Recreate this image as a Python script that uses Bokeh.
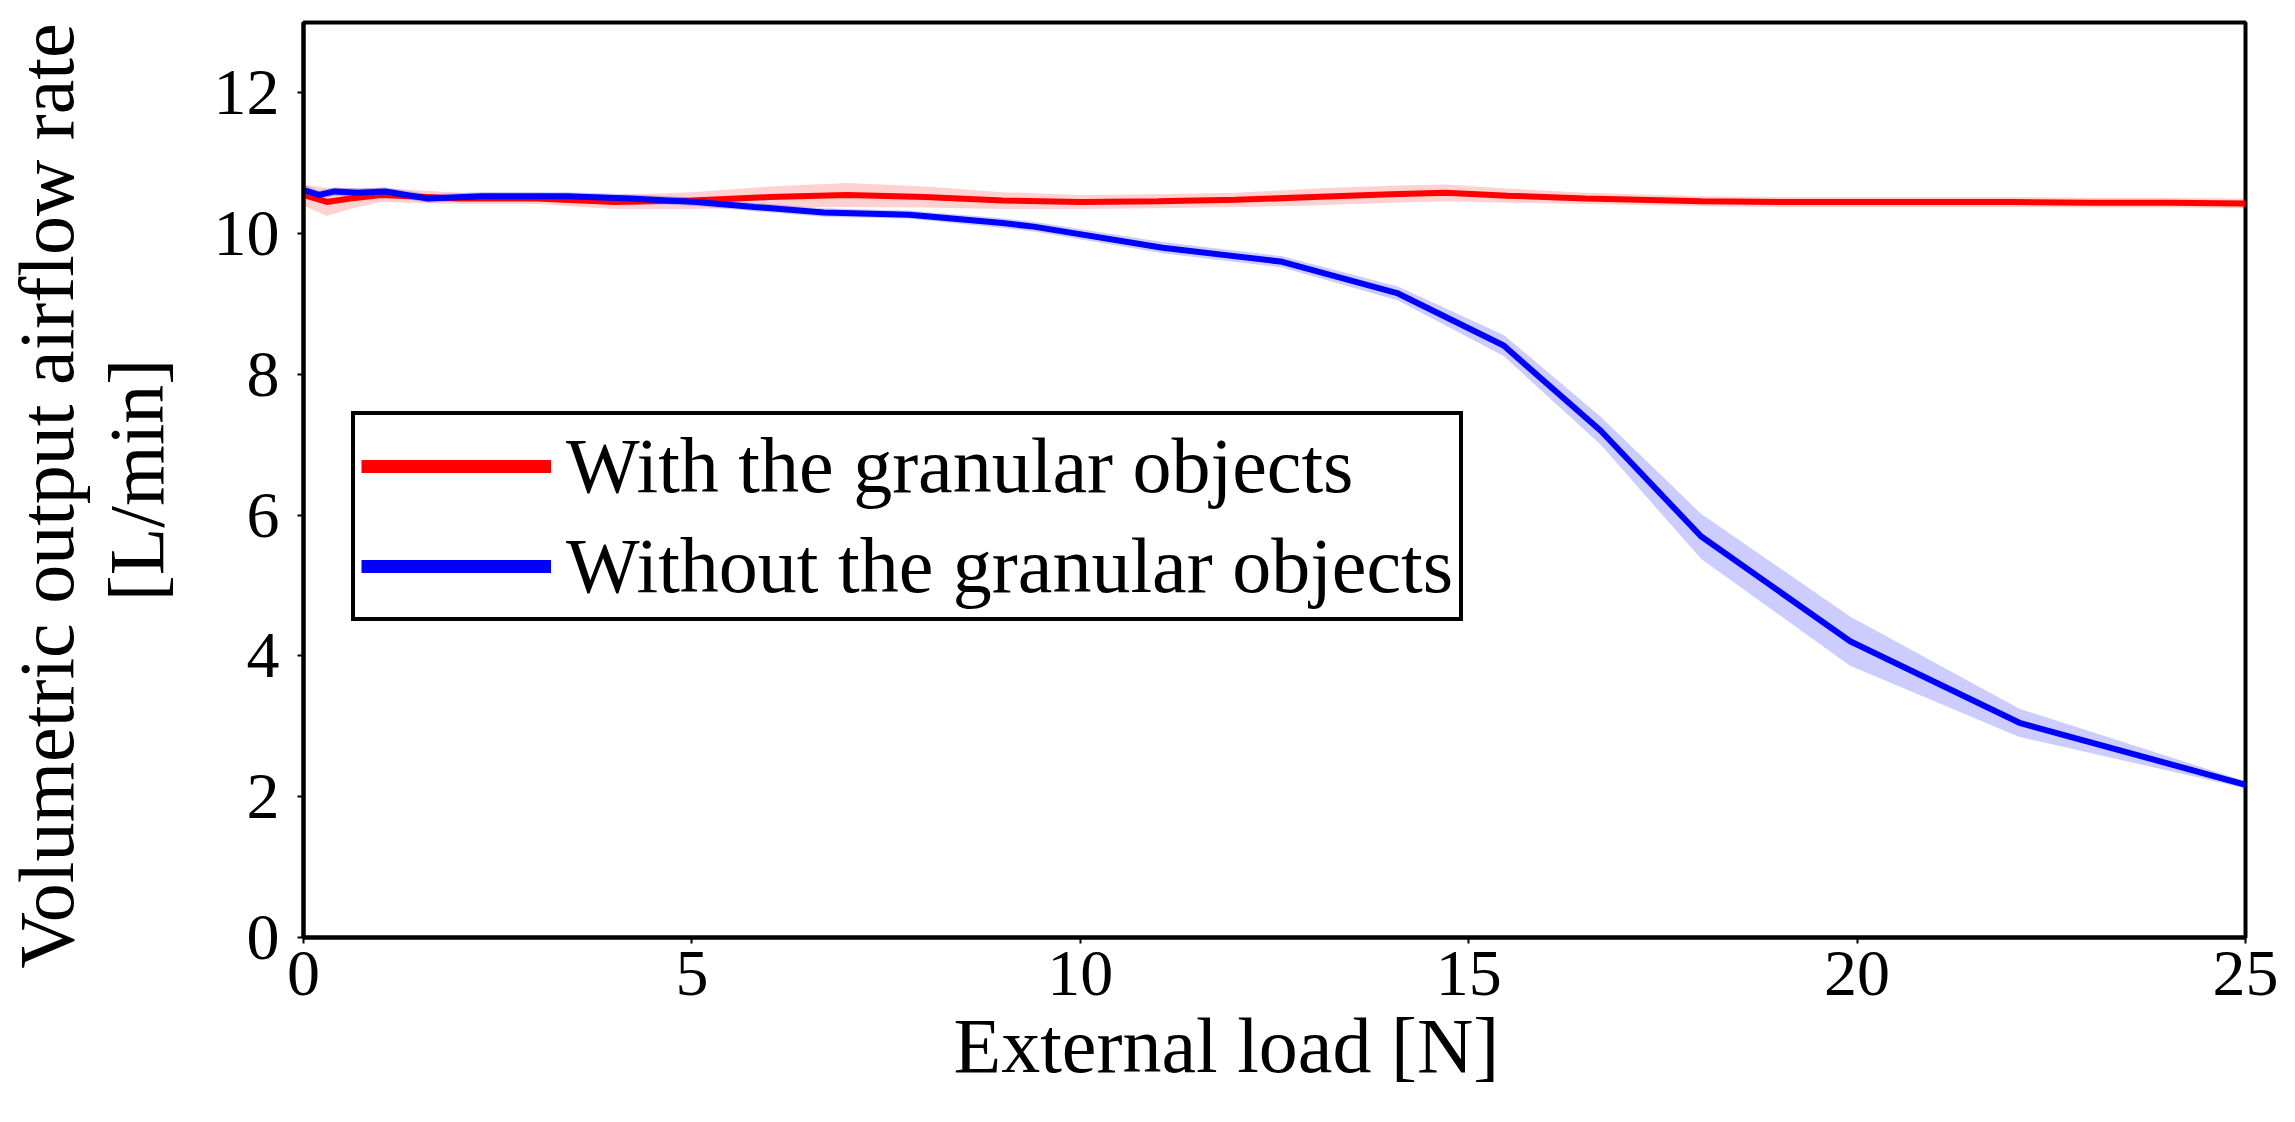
import math
from bokeh.plotting import figure
from bokeh.models import Range1d, Legend, LegendItem, FixedTicker, Title
from bokeh.embed import file_html
from bokeh.resources import INLINE

# ---- data ----
red_x = [0, 0.3, 0.6, 1.0, 2, 3, 4, 5, 6, 7, 8, 9, 10, 11, 12, 13, 14, 14.7, 15.5, 16.5, 18, 19, 20, 21, 22, 23, 24, 25]
red_y = [10.55, 10.45, 10.5, 10.55, 10.5, 10.5, 10.45, 10.47, 10.52, 10.55, 10.52, 10.47, 10.45, 10.46,
         10.48, 10.52, 10.56, 10.58, 10.54, 10.5, 10.46, 10.45, 10.45, 10.45, 10.45, 10.44, 10.44, 10.43]
red_sd = [0.15, 0.2, 0.15, 0.1, 0.08, 0.08, 0.1, 0.12, 0.15, 0.17, 0.15, 0.12, 0.1, 0.1,
          0.1, 0.12, 0.12, 0.12, 0.1, 0.08, 0.07, 0.07, 0.07, 0.07, 0.07, 0.07, 0.07, 0.07]

blue_x = [0, 0.2, 0.4, 0.7, 1.05, 1.6, 2.3, 3.4, 4.2, 5.07, 5.8, 6.7, 7.8, 9.0, 9.4, 11.06, 12.6,
          14.09, 15.45, 16.7, 17.99, 19.91, 22.09, 25]
blue_y = [10.62, 10.55, 10.6, 10.58, 10.6, 10.5, 10.53, 10.53, 10.5, 10.45, 10.38, 10.3, 10.27, 10.15,
          10.1, 9.8, 9.6, 9.15, 8.41, 7.2, 5.70, 4.21, 3.05, 2.17]
blue_sd = [0.08, 0.06, 0.06, 0.06, 0.06, 0.06, 0.06, 0.06, 0.06, 0.06, 0.06, 0.06, 0.06, 0.07,
           0.07, 0.08, 0.08, 0.1, 0.15, 0.2, 0.32, 0.35, 0.2, 0.05]

x_ticks = [0, 5, 10, 15, 20, 25]
y_ticks = [0, 2, 4, 6, 8, 10, 12]

labels = ["With the granular objects", "Without the granular objects"]
x_label = "External load [N]"
y_label_1 = "Volumetric output airflow rate"
y_label_2 = "[L/min]"

RED = "#ff0000"
BLUE = "#0000ff"
FONT = "Liberation Serif"

p = figure(width=2287, height=1118, x_range=Range1d(0, 25), y_range=Range1d(0, 13),
           output_backend="svg", toolbar_location=None,
           min_border_left=301, min_border_top=22, min_border_right=42, min_border_bottom=181)

p.xgrid.visible = False
p.ygrid.visible = False
p.outline_line_color = "black"
p.outline_line_width = 4
p.outline_line_alpha = 1.0
p.background_fill_color = "white"
p.border_fill_color = "white"

# bands
p.varea(x=red_x, y1=[a - b for a, b in zip(red_y, red_sd)], y2=[a + b for a, b in zip(red_y, red_sd)],
        fill_color=RED, fill_alpha=0.18)
p.varea(x=blue_x, y1=[a - b for a, b in zip(blue_y, blue_sd)], y2=[a + b for a, b in zip(blue_y, blue_sd)],
        fill_color=BLUE, fill_alpha=0.2)
p.line(red_x, red_y, line_color=RED, line_width=6)
p.line(blue_x, blue_y, line_color=BLUE, line_width=6)

# legend proxies
r_leg = p.line([math.nan], [math.nan], line_color=RED, line_width=13)
b_leg = p.line([math.nan], [math.nan], line_color=BLUE, line_width=13)
legend = Legend(items=[LegendItem(label=labels[0], renderers=[r_leg]),
                       LegendItem(label=labels[1], renderers=[b_leg])],
                location=(48, 316), orientation="vertical",
                label_text_font=FONT, label_text_font_size="78px", label_text_color="black",
                glyph_width=190, glyph_height=80, label_height=80, label_standoff=15,
                spacing=10, padding=6, margin=0,
                border_line_color="black", border_line_width=4, border_line_alpha=1.0,
                background_fill_color="white", background_fill_alpha=1.0)
p.add_layout(legend)

# axes
for ax in (p.xaxis[0], p.yaxis[0]):
    ax.axis_line_color = "black"
    ax.axis_line_width = 4
    ax.major_tick_line_color = "black"
    ax.major_tick_line_width = 2
    ax.major_tick_out = 6
    ax.major_tick_in = 0
    ax.minor_tick_line_color = None
    ax.major_label_text_font = FONT
    ax.major_label_text_font_size = "66px"
    ax.major_label_text_color = "black"
    ax.axis_label_text_font = FONT
    ax.axis_label_text_font_size = "78px"
    ax.axis_label_text_font_style = "normal"
    ax.axis_label_text_color = "black"

p.xaxis[0].ticker = FixedTicker(ticks=x_ticks)
p.yaxis[0].ticker = FixedTicker(ticks=y_ticks)
p.xaxis[0].major_label_standoff = 8
p.yaxis[0].axis_label = y_label_2
p.yaxis[0].major_label_standoff = 18
p.yaxis[0].axis_label_standoff = 31

# x axis label, placed slightly left of centre as in the reference
tx = Title(text=x_label, align="left", offset=650, standoff=4, vertical_align="bottom",
           text_font=FONT, text_font_size="78px", text_font_style="normal", text_color="black")
p.add_layout(tx, "below")

# first line of the y axis label
t1 = Title(text=y_label_1, align="left", offset=-31, standoff=0,
           text_font=FONT, text_font_size="78px", text_font_style="normal", text_color="black")
p.add_layout(t1, "left")

open("out.html", "w").write(file_html(p, INLINE))
